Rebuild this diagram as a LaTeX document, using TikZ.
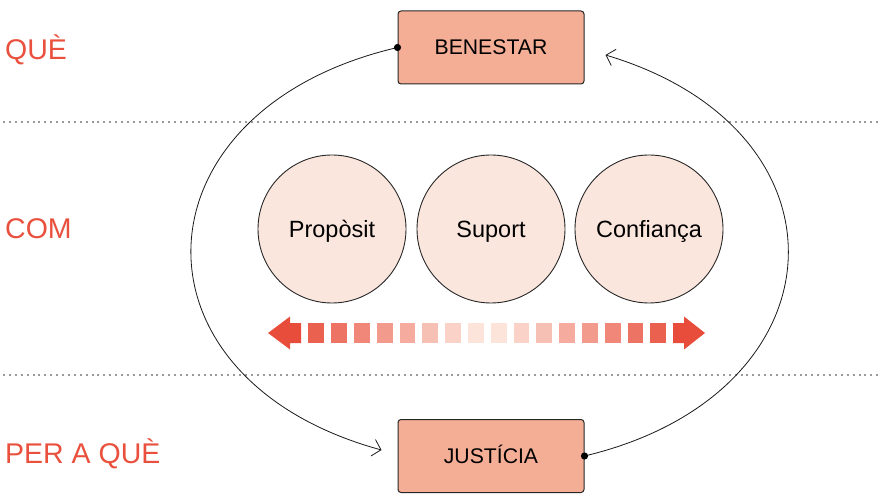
\documentclass[tikz,border=0pt]{standalone}
\usepackage{fontspec}
\setmainfont{Liberation Sans}
\usetikzlibrary{arrows.meta,calc}
\definecolor{lblred}{HTML}{E9503D}
\definecolor{boxfill}{HTML}{F5AE96}
\definecolor{circfill}{HTML}{FBE6DD}
\definecolor{arrred}{HTML}{E84C3A}
\definecolor{arrpale}{HTML}{FCE4DA}
\definecolor{dotgrey}{HTML}{9A9A9A}
\tikzset{
  x=1pt, y=1pt,
  rowlabel/.style={anchor=base west, inner sep=0pt, text=lblred, font=\fontsize{28.5}{30}\selectfont},
  mainbox/.style={draw=black!85, line width=1pt, fill=boxfill, rounded corners=3pt,
    minimum width=186pt, minimum height=73pt, inner sep=0pt, text height=19pt, text depth=4pt,
    font=\fontsize{21.2}{23}\selectfont},
  valuecirc/.style={circle, draw=black!85, line width=0.9pt, fill=circfill, minimum size=148pt,
    inner sep=0pt, text height=23pt, text depth=5pt, font=\fontsize{23.5}{25}\selectfont},
  rowsep/.style={dotgrey, line width=2pt, dash pattern=on 2pt off 3.9pt},
  loopline/.style={line width=0.8pt, black!90, -{Straight Barb[length=8pt,width=17pt,line width=0.8pt]}},
}
\begin{document}
\begin{tikzpicture}
\useasboundingbox (0,0) rectangle (881,496);
% row separators
\draw[rowsep] (3,374) -- (881,374);
\draw[rowsep] (3,121) -- (881,121);
% row labels
\node[rowlabel] (que) at (5,436) {QUÈ};
\node[rowlabel] (com) at (5,257.5) {COM};
\node[rowlabel] (pera) at (5,33) {PER A QUÈ};
% boxes
\node[mainbox] (ben) at (491,448.5) {BENESTAR};
\node[mainbox] (jus) at (491,40) {JUSTÍCIA};
% circles
\node[valuecirc] (prop) at (332,267) {Propòsit};
\node[valuecirc] (sup) at (491,267) {Suport};
\node[valuecirc] (conf) at (649,267) {Confiança};
% loop connectors
\coordinate (jl) at ($(jus.west)+(-16,6)$);
\coordinate (br) at ($(ben.east)+(21,-7.5)$);
\draw[loopline] (ben.west) .. controls ($(ben.west)+(-267,-62)$) and ($(jl)+(-262,71.5)$) .. (jl);
\draw[loopline] (jus.east) .. controls ($(jus.east)+(261,62)$) and ($(br)+(253.7,-75.5)$) .. (br);
\fill (ben.west) circle (3.6);
\fill (jus.east) circle (3.6);
% gradient double arrow
\fill[arrred] (268,163) -- (290,179.5) -- (290,173) -- (301,173) -- (301,153) -- (290,153) -- (290,146.5) -- cycle;
\fill[arrred] (705,163) -- (684,179.5) -- (684,173) -- (673,173) -- (673,153) -- (684,153) -- (684,146.5) -- cycle;
\foreach \i in {0,...,15} {
  \pgfmathtruncatemacro\p{(abs(\i-7.5)-0.5)*12.4}
  \pgfmathsetmacro\xl{308.3+22.8*\i}
  \fill[arrred!\p!arrpale] (\xl,153) rectangle ++(15.8,20);
}
\end{tikzpicture}
\end{document}
